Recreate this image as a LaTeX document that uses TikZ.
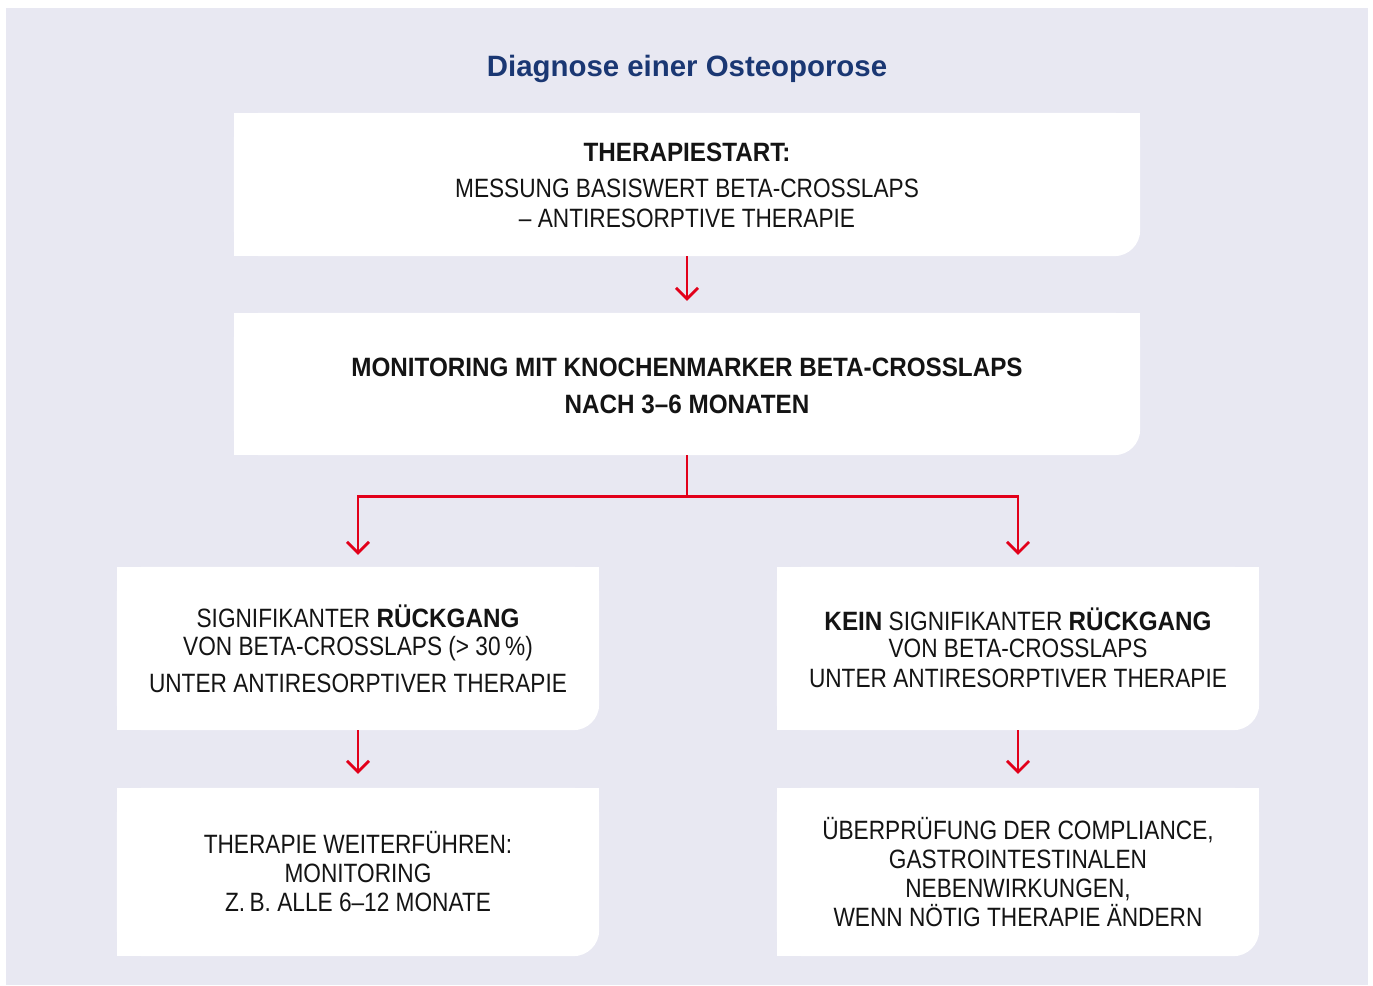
\documentclass[tikz,border=0pt]{standalone}
\usepackage{fontspec}
\setmainfont{Liberation Sans}[FakeStretch=0.855, BoldFeatures={FakeStretch=0.915}]
\newfontfamily\titlefont{Liberation Sans}
\usetikzlibrary{arrows.meta,backgrounds}
\definecolor{panel}{HTML}{E8E8F2}
\definecolor{titleblue}{HTML}{1A3773}
\definecolor{arrred}{HTML}{E2001A}
\definecolor{ink}{HTML}{141414}
\tikzset{
  card/.style={rectangle, draw=none, fill=none, inner sep=0pt},
  txt/.style={anchor=base, inner sep=0pt, text=ink, font=\fontsize{26.5pt}{30pt}\selectfont},
  arr/.style={draw=arrred, line width=2.7pt, -{Straight Barb[length=11pt,width=22pt]}},
}
\newcommand\cardshape[1]{%
  \fill[white, rounded corners=26pt] (#1.north west) rectangle (#1.south east);
  \fill[white] (#1.north west) rectangle (#1.east);
  \fill[white] (#1.north west) rectangle (#1.south);
}
\begin{document}
\begin{tikzpicture}[x=1pt,y=-1pt]
\useasboundingbox (0,0) rectangle (1373,985);
% cards
\node[card, minimum width=906pt, minimum height=143pt] (b1) at (687,184.5) {};
\node[card, minimum width=906pt, minimum height=142pt] (b2) at (687,384) {};
\node[card, minimum width=482pt, minimum height=163pt] (b3) at (358,648.5) {};
\node[card, minimum width=482pt, minimum height=163pt] (b4) at (1018,648.5) {};
\node[card, minimum width=482pt, minimum height=168pt] (b5) at (358,872) {};
\node[card, minimum width=482pt, minimum height=168pt] (b6) at (1018,872) {};
\begin{pgfonlayer}{background}
  \fill[white] (0,0) rectangle (1373,985);
  \fill[panel] (6,8) rectangle (1368,985);
  \cardshape{b1}\cardshape{b2}\cardshape{b3}\cardshape{b4}\cardshape{b5}\cardshape{b6}
\end{pgfonlayer}
% title
\node[anchor=base, inner sep=0pt, text=titleblue, font=\titlefont\bfseries\fontsize{29.4pt}{32pt}\selectfont] (title) at (687,76.5) {Diagnose einer Osteoporose};
% texts
\node[txt] (t1a) at (687,161) {\textbf{THERAPIESTART:}};
\node[txt] (t1b) at (687,197) {MESSUNG BASISWERT BETA-CROSSLAPS};
\node[txt] (t1c) at (687,227) {– ANTIRESORPTIVE THERAPIE};
\node[txt] (t2a) at (687,376) {\textbf{MONITORING MIT KNOCHENMARKER BETA-CROSSLAPS}};
\node[txt] (t2b) at (687,413) {\textbf{NACH 3–6 MONATEN}};
\node[txt] (t3a) at (358,627) {SIGNIFIKANTER \textbf{RÜCKGANG}};
\node[txt] (t3b) at (358,655) {VON BETA-CROSSLAPS (> 30\,\%)};
\node[txt] (t3c) at (358,692) {UNTER ANTIRESORPTIVER THERAPIE};
\node[txt] (t4a) at (1018,630) {\textbf{KEIN} SIGNIFIKANTER \textbf{RÜCKGANG}};
\node[txt] (t4b) at (1018,657) {VON BETA-CROSSLAPS};
\node[txt] (t4c) at (1018,687) {UNTER ANTIRESORPTIVER THERAPIE};
\node[txt] (t5a) at (358,853) {THERAPIE WEITERFÜHREN:};
\node[txt] (t5b) at (358,882) {MONITORING};
\node[txt] (t5c) at (358,911) {Z.\,B. ALLE 6–12 MONATE};
\node[txt] (t6a) at (1018,839) {ÜBERPRÜFUNG DER COMPLIANCE,};
\node[txt] (t6b) at (1018,868) {GASTROINTESTINALEN};
\node[txt] (t6c) at (1018,897) {NEBENWIRKUNGEN,};
\node[txt] (t6d) at (1018,926) {WENN NÖTIG THERAPIE ÄNDERN};
% connectors
\draw[arr, shorten >=12pt] (b1.south) -- (b2.north);
\draw[arr] (b2.south) -- ++(0,41) -| ([yshift=12pt]b3.north);
\draw[arr] (b2.south) -- ++(0,41) -| ([yshift=12pt]b4.north);
\draw[arr, shorten >=14pt] (b3.south) -- (b5.north);
\draw[arr, shorten >=14pt] (b4.south) -- (b6.north);
\end{tikzpicture}
\end{document}
